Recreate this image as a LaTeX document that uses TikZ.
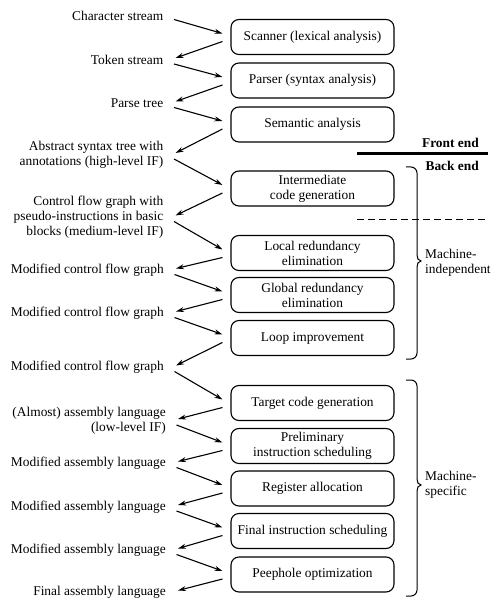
\documentclass[tikz,border=0pt]{standalone}
\usepackage{fontspec}
\setmainfont{Liberation Serif}
\newfontfamily\tnr{Liberation Serif}
\usetikzlibrary{calc,arrows.meta}
\newcommand\fs{\tnr\fontsize{13.4}{15}\selectfont}
\begin{document}
\begin{tikzpicture}[x=1pt,y=-1pt,
  box/.style={draw, line width=1.1pt, rounded corners=8pt, minimum width=163pt,
    minimum height=35pt, align=center, inner sep=1pt, font=\fs},
  lab/.style={anchor=east, align=right, inner sep=0pt, font=\fs},
  side/.style={anchor=west, align=left, inner sep=0pt, font=\fs},
  arr/.style={line width=1.1pt, -{Stealth[length=8pt,width=5pt]}},
  brace/.style={line width=1pt},
  ]
\useasboundingbox (0,0) rectangle (501,609);

% boxes
\node[box] (b1)  at (312.5,37)    {Scanner (lexical analysis)};
\node[box] (b2)  at (312.5,80.5)  {Parser (syntax analysis)};
\node[box] (b3)  at (312.5,124.5) {Semantic analysis};
\node[box] (b4)  at (312.5,188.5) {Intermediate\\code generation};
\node[box] (b5)  at (312.5,253)   {Local redundancy\\elimination};
\node[box] (b6)  at (312.5,295)   {Global redundancy\\elimination};
\node[box] (b7)  at (312.5,338)   {Loop improvement};
\node[box] (b8)  at (312.5,403)   {Target code generation};
\node[box] (b9)  at (312.5,446)   {Preliminary\\instruction scheduling};
\node[box] (b10) at (312.5,488.5) {Register allocation};
\node[box] (b11) at (312.5,531)   {Final instruction scheduling};
\node[box] (b12) at (312.5,574.5) {Peephole optimization};

% labels
\node[lab] (l1)  at (163.5,15.5)  {Character stream};
\node[lab] (l2)  at (163.5,60)    {Token stream};
\node[lab] (l3)  at (163.5,103.5) {Parse tree};
\node[lab] (l4)  at (163.5,155)   {Abstract syntax tree with\\annotations (high-level IF)};
\node[lab] (l5)  at (163.5,217.5) {Control flow graph with\\pseudo-instructions in basic\\blocks (medium-level IF)};
\node[lab] (l6)  at (164,270.5)   {Modified control flow graph};
\node[lab] (l7)  at (164,313.5)   {Modified control flow graph};
\node[lab] (l8)  at (164,367.5)   {Modified control flow graph};
\node[lab] (l9)  at (166,421)     {(Almost) assembly language\\(low-level IF)};
\node[lab] (l10) at (166,463.5)   {Modified assembly language};
\node[lab] (l11) at (166,507)     {Modified assembly language};
\node[lab] (l12) at (166,550.5)   {Modified assembly language};
\node[lab] (l13) at (166,592.5)   {Final assembly language};

% arrows: label -> box -> label
\foreach \i/\j in {1/1,2/2,3/3,4/4,5/5,6/6,7/7,8/8,9/9,10/10,11/11,12/12}{
  \draw[arr] ($(l\i.east)+(10.5,4)$) -- ($(b\j.west)+(-8,-3.5)$);
}
\foreach \i/\j in {1/2,2/3,3/4,4/5,5/6,6/7,7/8,8/9,9/10,10/11,11/12,12/13}{
  \draw[arr] ($(b\i.west)+(-8,4.5)$) -- ($(l\j.east)+(12,-2)$);
}

% front end / back end
\node[anchor=east, inner sep=0pt, font=\fs\bfseries] (fe) at (479,143) {Front end};
\node[anchor=east, inner sep=0pt, font=\fs\bfseries] (be) at (479,166) {Back end};
\draw[line width=3pt] (357,154) -- (488,154);
\draw[line width=1pt, dash pattern=on 7pt off 4pt] (357,220) -- (488,220);

% braces
\draw[brace] (406,167) -- (411,167) to[out=0,in=90] (417,173) -- (417,255)
  to[out=270,in=180] (421,261) to[out=180,in=90] (417,267) -- (417,353)
  to[out=270,in=0] (411,359) -- (406,359);
\draw[brace] (406,380) -- (411,380) to[out=0,in=90] (417,386) -- (417,479)
  to[out=270,in=180] (421,485) to[out=180,in=90] (417,491) -- (417,590)
  to[out=270,in=0] (411,596) -- (406,596);
\node[side] (mi) at (425,263) {Machine-\\independent};
\node[side] (ms) at (425,485) {Machine-\\specific};
\end{tikzpicture}
\end{document}
